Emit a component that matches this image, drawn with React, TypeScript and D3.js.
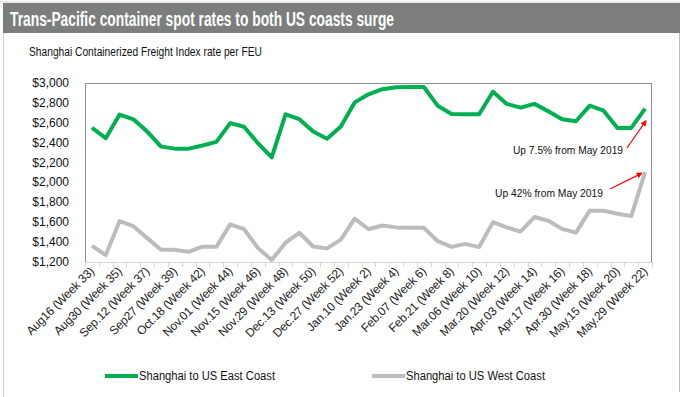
import React, { useEffect, useRef } from 'react'
import * as d3 from 'd3'

const width = 683
const height = 397
const margin = { top: 83, left: 85, right: 31, bottom: 135 }
const font = '"Liberation Sans", Arial, sans-serif'

// every other category carries a label in the original
const tickLabels = [
  'Aug16 (Week 33)', 'Aug30 (Week 35)', 'Sep.12 (Week 37)', 'Sep27 (Week 39)', 'Oct.18 (Week 42)',
  'Nov.01 (Week 44)', 'Nov.15 (Week 46)', 'Nov.29 (Week 48)', 'Dec.13 (Week 50)', 'Dec.27 (Week 52)',
  'Jan.10 (Week 2)', 'Jan.23 (Week 4)', 'Feb.07 (Week 6)', 'Feb.21 (Week 8)', 'Mar.06 (Week 10)',
  'Mar.20 (Week 12)', 'Apr.03 (Week 14)', 'Apr.17 (Week 16)', 'Apr.30 (Week 18)', 'May.15 (Week 20)',
  'May.29 (Week 22)'
]

const eastCoast = [
  2550, 2445, 2683, 2635, 2512, 2360, 2340, 2340, 2372, 2408, 2596, 2560, 2395, 2253, 2684,
  2636, 2512, 2440, 2563, 2805, 2886, 2938, 2957, 2960, 2960, 2772, 2688, 2686, 2686, 2912,
  2790, 2752, 2790, 2716, 2635, 2615, 2772, 2722, 2548, 2548, 2742
]

const westCoast = [
  1362, 1270, 1610, 1560, 1440, 1323, 1322, 1303, 1354, 1354, 1578, 1530, 1341, 1220, 1394,
  1494, 1356, 1337, 1425, 1636, 1529, 1567, 1548, 1545, 1545, 1410, 1352, 1382, 1350, 1600,
  1547, 1507, 1652, 1615, 1533, 1495, 1716, 1716, 1685, 1662, 2104
]

const yTicks = [1200, 1400, 1600, 1800, 2000, 2200, 2400, 2600, 2800, 3000]

const seriesNames = ['Shanghai to US East Coast', 'Shanghai to US West Coast']
const seriesColors = ['#00b050', '#bcbcbc']

export default function App() {
  const ref = useRef<SVGSVGElement>(null)

  useEffect(() => {
    const svg = d3.select(ref.current)
    svg.selectAll('*').remove()

    const n = eastCoast.length
    const x = d3.scaleBand<number>()
      .domain(d3.range(n))
      .range([margin.left, width - margin.right])
    const bw = x.bandwidth()
    const cx = (i: number) => (x(i) as number) + bw / 2
    const y = d3.scaleLinear().domain([1200, 3000]).range([height - margin.bottom, margin.top])

    // outer frame and title bar
    svg.append('line').attr('x1', 0).attr('x2', 680).attr('y1', 2).attr('y2', 2)
      .attr('stroke', '#d4d4d4').attr('stroke-width', 1)
    svg.append('line').attr('x1', 3.5).attr('x2', 3.5).attr('y1', 33).attr('y2', height)
      .attr('stroke', '#cfcfcf')
    svg.append('line').attr('x1', 679.5).attr('x2', 679.5).attr('y1', 3).attr('y2', 392)
      .attr('stroke', '#bdbdbd')
    svg.append('rect').attr('x', 3).attr('y', 3).attr('width', 677).attr('height', 30)
      .attr('fill', '#7b7e7d')
    svg.append('text')
      .attr('x', 10).attr('y', 26)
      .attr('font-family', font).attr('font-weight', 'bold').attr('font-size', 20)
      .attr('fill', 'white')
      .attr('textLength', 384).attr('lengthAdjust', 'spacingAndGlyphs')
      .text('Trans-Pacific container spot rates to both US coasts surge')

    svg.append('text')
      .attr('x', 29).attr('y', 56)
      .attr('font-family', font).attr('font-size', 12.5).attr('fill', '#111')
      .attr('textLength', 233).attr('lengthAdjust', 'spacingAndGlyphs')
      .text('Shanghai Containerized Freight Index rate per FEU')

    // plot frame
    svg.append('rect')
      .attr('x', margin.left + 0.5).attr('y', margin.top + 0.5)
      .attr('width', width - margin.left - margin.right - 1)
      .attr('height', height - margin.top - margin.bottom)
      .attr('fill', 'none').attr('stroke', '#8f8f8f')

    // y labels
    svg.append('g')
      .selectAll('text')
      .data(yTicks)
      .join('text')
      .attr('x', 69).attr('y', d => y(d) + 4)
      .attr('text-anchor', 'end')
      .attr('font-family', font).attr('font-size', 12).attr('fill', '#111')
      .text(d => d3.format('$,')(d))

    // x axis line and ticks
    const axisY = height - margin.bottom
    svg.append('line')
      .attr('x1', margin.left).attr('x2', width - margin.right)
      .attr('y1', axisY + 0.5).attr('y2', axisY + 0.5)
      .attr('stroke', '#d6d6d6')
    svg.append('g')
      .selectAll('line')
      .data(d3.range(n + 1))
      .join('line')
      .attr('x1', i => Math.round(margin.left + i * bw) + 0.5)
      .attr('x2', i => Math.round(margin.left + i * bw) + 0.5)
      .attr('y1', axisY).attr('y2', axisY + 5)
      .attr('stroke', '#d6d6d6')

    svg.append('g')
      .selectAll('text')
      .data(tickLabels)
      .join('text')
      .attr('transform', (d, i) => `translate(${cx(i * 2) + 3},${axisY + 10}) rotate(-45)`)
      .attr('text-anchor', 'end')
      .attr('font-family', font).attr('font-size', 12).attr('fill', '#222')
      .attr('letter-spacing', -0.2)
      .text(d => d)

    // lines
    const line = d3.line<number>().x((d, i) => cx(i)).y(d => y(d))
    ;[eastCoast, westCoast].forEach((s, k) => {
      svg.append('path')
        .attr('d', line(s))
        .attr('fill', 'none')
        .attr('stroke', seriesColors[k])
        .attr('stroke-width', 4)
        .attr('stroke-linejoin', 'round')
    })

    // annotations
    const defs = svg.append('defs')
    defs.append('marker')
      .attr('id', 'arrow').attr('viewBox', '0 0 10 10')
      .attr('refX', 9).attr('refY', 5)
      .attr('markerWidth', 5).attr('markerHeight', 5)
      .attr('orient', 'auto')
      .append('path').attr('d', 'M0,0 L10,5 L0,10 z').attr('fill', '#ff0000')

    const last = n - 1
    svg.append('line')
      .attr('x1', 627).attr('y1', 148)
      .attr('x2', cx(last) + 1).attr('y2', y(eastCoast[last]) + 12)
      .attr('stroke', '#ff0000').attr('stroke-width', 1.2)
      .attr('marker-end', 'url(#arrow)')
    svg.append('line')
      .attr('x1', 610).attr('y1', 189)
      .attr('x2', cx(last) - 3).attr('y2', y(westCoast[last]) + 1)
      .attr('stroke', '#ff0000').attr('stroke-width', 1.2)
      .attr('marker-end', 'url(#arrow)')

    svg.append('text')
      .attr('x', 513).attr('y', 154)
      .attr('font-family', font).attr('font-size', 11).attr('fill', '#111')
      .attr('textLength', 110).attr('lengthAdjust', 'spacingAndGlyphs')
      .text('Up 7.5% from May 2019')
    svg.append('text')
      .attr('x', 495).attr('y', 197)
      .attr('font-family', font).attr('font-size', 11).attr('fill', '#111')
      .attr('textLength', 108).attr('lengthAdjust', 'spacingAndGlyphs')
      .text('Up 42% from May 2019')

    // legend
    const legendX = [105, 372]
    const legendW = [136, 139]
    const lg = svg.append('g')
    seriesNames.forEach((name, k) => {
      lg.append('line')
        .attr('x1', legendX[k]).attr('x2', legendX[k] + 33)
        .attr('y1', 376).attr('y2', 376)
        .attr('stroke', seriesColors[k]).attr('stroke-width', 4)
      lg.append('text')
        .attr('x', legendX[k] + 34).attr('y', 380)
        .attr('font-family', font).attr('font-size', 12).attr('fill', '#111')
        .attr('textLength', legendW[k]).attr('lengthAdjust', 'spacingAndGlyphs')
        .text(name)
    })
  }, [])

  return (
    <svg ref={ref} width={width} height={height}
      style={{ display: 'block', position: 'absolute', left: 0, top: 0, background: 'white' }} />
  )
}
